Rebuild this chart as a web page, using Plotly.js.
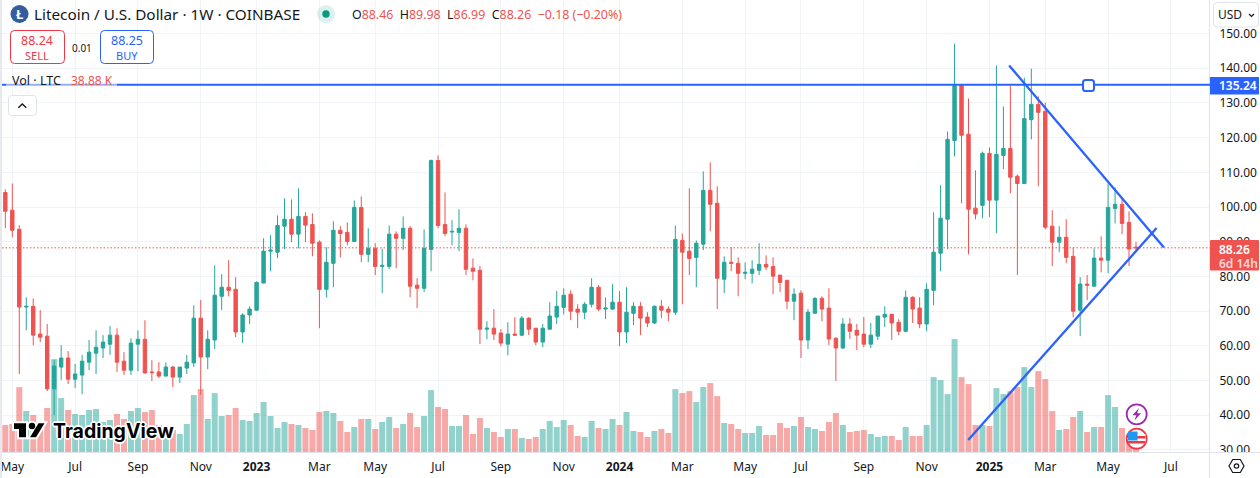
<!DOCTYPE html>
<html><head><meta charset="utf-8">
<script src="https://cdn.plot.ly/plotly-3.0.1.min.js"></script>
<style>html,body{margin:0;padding:0;background:#fff;overflow:hidden}#c{width:1260px;height:478px}</style>
</head><body><div id="c"></div>
<script>
const weeks=["2022-04-25","2022-05-02","2022-05-09","2022-05-16","2022-05-23","2022-05-30","2022-06-06","2022-06-13","2022-06-20","2022-06-27","2022-07-04","2022-07-11","2022-07-18","2022-07-25","2022-08-01","2022-08-08","2022-08-15","2022-08-22","2022-08-29","2022-09-05","2022-09-12","2022-09-19","2022-09-26","2022-10-03","2022-10-10","2022-10-17","2022-10-24","2022-10-31","2022-11-07","2022-11-14","2022-11-21","2022-11-28","2022-12-05","2022-12-12","2022-12-19","2022-12-26",
"2023-01-02","2023-01-09","2023-01-16","2023-01-23","2023-01-30","2023-02-06","2023-02-13","2023-02-20","2023-02-27","2023-03-06","2023-03-13","2023-03-20","2023-03-27","2023-04-03","2023-04-10","2023-04-17","2023-04-24","2023-05-01","2023-05-08","2023-05-15","2023-05-22","2023-05-29","2023-06-05","2023-06-12","2023-06-19","2023-06-26","2023-07-03","2023-07-10","2023-07-17","2023-07-24","2023-07-31","2023-08-07","2023-08-14","2023-08-21","2023-08-28","2023-09-04","2023-09-11","2023-09-18","2023-09-25","2023-10-02","2023-10-09","2023-10-16","2023-10-23","2023-10-30","2023-11-06","2023-11-13","2023-11-20","2023-11-27","2023-12-04","2023-12-11","2023-12-18","2023-12-25",
"2024-01-01","2024-01-08","2024-01-15","2024-01-22","2024-01-29","2024-02-05","2024-02-12","2024-02-19","2024-02-26","2024-03-04","2024-03-11","2024-03-18","2024-03-25","2024-04-01","2024-04-08","2024-04-15","2024-04-22","2024-04-29","2024-05-06","2024-05-13","2024-05-20","2024-05-27","2024-06-03","2024-06-10","2024-06-17","2024-06-24","2024-07-01","2024-07-08","2024-07-15","2024-07-22","2024-07-29","2024-08-05","2024-08-12","2024-08-19","2024-08-26","2024-09-02","2024-09-09","2024-09-16","2024-09-23","2024-09-30","2024-10-07","2024-10-14","2024-10-21","2024-10-28","2024-11-04","2024-11-11","2024-11-18","2024-11-25","2024-12-02","2024-12-09","2024-12-16","2024-12-23","2024-12-30",
"2025-01-06","2025-01-13","2025-01-20","2025-01-27","2025-02-03","2025-02-10","2025-02-17","2025-02-24","2025-03-03","2025-03-10","2025-03-17","2025-03-24","2025-03-31","2025-04-07","2025-04-14","2025-04-21","2025-04-28","2025-05-05","2025-05-12","2025-05-19","2025-05-26","2025-06-02"];
const opens=[104.2,99.1,93.6,71.2,71.4,63.4,62.8,47.6,53.9,56.5,50.4,51.6,55.3,57.9,59.4,60.5,63.1,55.6,53.0,60.5,61.9,52.5,52.5,51.3,53.9,51.0,53.6,55.1,68.0,56.8,61.7,74.3,76.9,76.3,64.0,68.9,70.3,78.1,87.3,87.0,94.5,96.5,92.2,97.3,95.0,89.9,76.3,83.8,93.3,92.7,90.1,99.9,86.4,88.1,82.9,82.9,92.2,91.0,93.9,77.5,76.6,87.8,113.4,95.0,92.8,92.7,93.9,82.4,81.8,64.8,65.1,63.7,60.5,63.4,63.1,68.0,65.1,61.1,64.8,68.3,71.1,74.9,70.6,69.7,72.0,76.9,70.6,70.6,72.6,64.0,69.4,71.4,68.3,66.6,71.4,70.6,69.7,90.4,87.3,85.5,89.3,104.8,101.1,79.2,84.1,83.8,80.9,80.9,81.8,83.5,82.9,80.4,78.9,72.9,75.2,61.7,69.4,73.7,70.9,62.2,59.4,66.3,64.5,63.4,60.5,62.8,68.3,69.1,66.8,64.2,74.0,70.9,66.3,76.0,86.7,96.5,119.2,135.0,121.0,99.7,100.5,115.5,102.0,114.9,116.9,108.9,106.8,125.2,129.6,127.6,94.5,89.9,91.3,85.8,70.3,77.8,77.2,85.3,84.7,99.6,100.8,95.6,88.46];
const highs=[105.1,106.8,94.8,74.0,73.7,70.3,66.3,55.9,60.2,58.5,54.8,57.4,61.7,64.5,63.1,65.7,65.1,58.2,62.2,64.5,67.4,55.9,55.3,55.2,54.2,53.9,57.4,71.7,73.2,64.5,83.2,80.7,84.7,79.8,69.4,71.4,78.6,91.0,91.9,97.6,102.5,102.2,105.4,98.5,98.2,90.4,88.4,95.9,94.5,95.6,101.9,103.1,93.9,89.6,88.0,94.7,93.0,97.3,94.5,79.5,93.6,113.7,114.9,104.2,96.2,99.4,95.0,85.2,83.0,67.1,70.6,64.8,66.8,68.3,68.6,68.3,65.1,66.3,72.6,75.8,76.6,76.0,72.0,72.6,79.5,77.5,74.0,77.8,75.8,76.9,72.6,72.6,69.7,71.7,73.2,71.4,94.7,92.4,105.4,90.4,110.3,112.9,106.0,85.8,88.4,85.5,84.1,84.7,89.6,86.1,85.5,80.4,78.9,76.6,76.0,70.6,74.0,74.3,76.6,62.5,68.0,68.0,66.3,68.3,66.6,68.6,71.4,69.1,67.7,76.0,74.3,74.0,78.0,98.5,106.3,121.8,147.1,135.0,131.3,110.6,116.0,117.2,140.8,129.0,135.0,109.4,137.3,139.9,131.9,130.1,99.1,94.5,96.5,88.4,79.8,80.4,88.1,91.6,106.8,105.7,102.8,98.8,89.98];
const lows=[93.9,91.3,51.9,64.5,60.2,61.1,47.0,40.1,50.2,49.0,47.9,46.1,53.0,51.9,56.5,57.4,52.5,51.6,51.6,52.7,52.0,49.9,50.7,51.3,48.1,49.3,51.9,53.9,46.0,53.3,59.1,70.3,74.3,62.5,60.8,66.3,70.0,78.1,81.5,85.3,87.9,89.9,88.1,89.9,85.8,65.1,74.0,76.9,85.5,89.0,89.9,84.1,84.1,80.4,75.2,82.1,82.4,87.6,74.0,70.9,75.5,81.5,93.9,91.6,89.0,87.3,80.4,78.9,60.5,61.9,61.7,59.9,57.3,63.1,62.8,63.1,60.2,59.6,64.8,66.3,69.1,67.4,65.1,67.7,71.1,70.0,67.7,70.3,59.9,60.8,66.0,63.1,65.4,66.3,68.0,67.1,68.9,72.0,80.4,76.9,87.6,93.0,70.6,75.2,81.5,74.3,79.2,78.0,80.4,81.8,74.9,75.5,70.6,67.4,56.5,59.1,69.4,67.1,60.2,49.9,59.1,62.0,58.8,59.6,59.4,61.7,65.4,61.7,63.1,63.9,66.6,65.1,64.2,71.7,81.5,87.9,114.6,101.1,86.4,96.5,96.8,97.1,92.5,110.9,104.0,80.4,106.8,119.5,106.0,93.6,83.0,87.0,83.8,68.3,62.8,73.2,77.2,81.2,81.0,95.3,92.2,83.0,86.99];
const closes=[98.8,93.3,71.2,71.4,63.1,62.5,47.6,54.2,56.5,50.4,51.9,55.6,58.2,59.6,61.1,63.1,55.3,53.0,60.8,61.9,52.2,52.3,51.3,53.9,51.0,53.9,55.3,68.0,56.8,61.9,74.6,76.9,76.0,64.0,68.9,70.6,78.3,87.3,87.6,94.7,96.5,92.2,97.3,94.8,89.6,76.3,84.1,93.3,92.4,90.1,99.9,86.4,88.1,82.9,83.2,92.2,91.0,93.9,77.2,76.6,88.1,113.4,94.7,92.4,93.0,93.9,82.1,81.5,64.8,65.1,63.4,60.8,63.4,63.1,68.0,64.8,61.1,65.1,68.6,71.4,74.6,70.0,69.7,72.0,76.9,70.6,70.9,72.6,64.0,69.7,71.4,68.0,66.6,71.4,70.3,69.7,90.7,87.0,85.2,89.6,104.8,100.8,79.5,84.1,83.8,80.9,81.2,82.1,83.5,82.7,80.1,78.3,72.9,74.9,61.7,69.7,73.7,70.6,62.0,59.4,66.3,64.2,63.1,60.5,63.1,68.6,69.1,66.6,64.2,74.0,70.6,66.3,76.3,87.0,96.8,119.5,135.0,120.7,99.4,98.0,115.5,102.0,115.2,116.9,108.6,106.8,125.5,129.6,127.3,94.2,89.9,91.3,85.5,70.0,77.8,77.5,85.3,84.7,99.9,100.8,95.3,87.9,88.26];
const volumeK=[351,364,844,533,481,372,572,1208,701,546,494,481,546,559,390,416,494,429,533,572,520,546,351,329,286,234,364,740,818,429,766,468,481,572,416,403,507,650,468,312,390,364,351,312,286,520,533,507,403,260,325,429,429,299,390,455,312,364,507,325,468,805,585,559,338,338,481,234,442,312,260,195,299,299,182,169,195,299,403,325,416,351,208,195,403,312,299,429,351,520,273,260,195,273,299,247,818,766,792,650,844,896,727,377,364,299,247,247,338,221,221,377,312,338,455,325,299,273,390,507,351,260,273,286,234,195,208,208,156,325,208,208,351,974,935,753,1468,974,883,351,351,338,831,753,792,844,1104,844,1052,948,533,286,299,455,533,260,325,325,740,585,312,221,38.88];
const xTickDates=["2022-05-02","2022-07-04","2022-09-05","2022-11-07","2023-01-02","2023-03-06","2023-05-01","2023-07-03","2023-09-04","2023-11-06","2024-01-01","2024-03-04","2024-05-06","2024-07-01","2024-09-02","2024-11-04","2025-01-06","2025-03-03","2025-05-05","2025-07-07"];
const xTickText=["May","Jul","Sep","Nov","<b>2023</b>","Mar","May","Jul","Sep","Nov","<b>2024</b>","Mar","May","Jul","Sep","Nov","<b>2025</b>","Mar","May","Jul"];
const priceTicks=[30,40,50,60,70,80,90,100,110,120,130,140,150];
const priceTickText=["30.00","40.00","50.00","60.00","70.00","80.00","90.00","100.00","110.00","120.00","130.00","140.00","150.00"];
const horizontalLevel=135.24, lastPrice=88.26;
const wedgeDown={x0:"2025-01-25 19:00",y0:140.8,x1:"2025-06-30",y1:88.33};
const wedgeUp={x0:"2024-12-15 17:00",y0:32.9,x1:"2025-06-22 15:00",y1:93.97};

const UP="#26A69A",DOWN="#EF5350",BLUE="#2962FF",INK="#131722",GRID="#f0f3fa",EDGE="#e0e3eb";
const FONT='"Noto Sans", sans-serif';
const L=2,W=1208,H=452;
const px=x=>(x-L)/W, py=y=>1-y/H;
const P=(x,y)=>px(x)+","+py(y);
const rrect=(x0,y0,x1,y1,r)=>`M${P(x0+r,y0)} L${P(x1-r,y0)} Q${P(x1,y0)} ${P(x1,y0+r)} L${P(x1,y1-r)} Q${P(x1,y1)} ${P(x1-r,y1)} L${P(x0+r,y1)} Q${P(x0,y1)} ${P(x0,y1-r)} L${P(x0,y0+r)} Q${P(x0,y0)} ${P(x0+r,y0)} Z`;
const poly=pts=>"M"+pts.map(p=>P(p[0],p[1])).join(" L");
const sh=(path,o={})=>({type:"path",path,xref:"paper",yref:"paper",layer:"above",fillcolor:o.fill||"rgba(0,0,0,0)",line:{color:o.color||"rgba(0,0,0,0)",width:o.w===undefined?1:o.w}});
const rect=(x0,y0,x1,y1,fill)=>({type:"rect",xref:"paper",yref:"paper",x0:px(x0),x1:px(x1),y0:py(y0),y1:py(y1),layer:"above",fillcolor:fill,line:{width:0}});
const circ=(cx,cy,r,fill,color,w)=>({type:"circle",xref:"paper",yref:"paper",x0:px(cx-r),x1:px(cx+r),y0:py(cy-r),y1:py(cy+r),layer:"above",fillcolor:fill,line:{color:color||"rgba(0,0,0,0)",width:w||0}});
const dataLine=(o,color,w,dash)=>({type:"line",xref:"x",yref:"y2",x0:o.x0,x1:o.x1,y0:o.y0,y1:o.y1,layer:"above",line:{color,width:w,dash:dash||"solid"}});
const note=(x,y,text,o={})=>({xref:"paper",yref:"paper",x:px(x),y:py(y),text,showarrow:false,xanchor:o.a||"left",yanchor:"middle",borderpad:0,
  font:Object.assign({family:o.family||FONT,size:o.size||12,color:o.color||INK},o.weight?{weight:o.weight}:{},o.shadow?{shadow:o.shadow}:{})});
const red=t=>`<span style="color:${DOWN}">${t}</span>`;
const halo="1px 0 0 #fff,-1px 0 0 #fff,0 1px 0 #fff,0 -1px 0 #fff,1px 1px 0 #fff,-1px -1px 0 #fff,1px -1px 0 #fff,-1px 1px 0 #fff,2px 0 0 #fff,-2px 0 0 #fff,0 2px 0 #fff,0 -2px 0 #fff";
const logoT=[[14,423.3],[26,423.3],[26,437.3],[19,437.3],[19,429],[14,429]];
const logoS=[[38.5,423.3],[44.5,423.3],[36,437.3],[30,437.3]];

const shapes=[
  rect(0,0,2,478,"#e8e9ec"),
  {type:"line",xref:"paper",yref:"paper",x0:px(2),x1:px(1260),y0:py(452.5),y1:py(452.5),layer:"above",line:{color:EDGE,width:1}},
  rect(1210,453,1260,478,"#fff"),
  {type:"line",xref:"paper",yref:"paper",x0:px(1209.5),x1:px(1209.5),y0:py(0),y1:py(478),layer:"above",line:{color:EDGE,width:1}},
  dataLine({x0:"2022-04-21 16:00",x1:"2025-08-15 05:00",y0:lastPrice,y1:lastPrice},DOWN,1,"1.5px,2px"),
  {type:"line",xref:"paper",yref:"y2",x0:0,x1:1,y0:horizontalLevel,y1:horizontalLevel,layer:"above",line:{color:BLUE,width:2}},
  rect(6,79,117,90,"rgba(255,255,255,0.5)"),
  dataLine(wedgeDown,BLUE,2.3),
  dataLine(wedgeUp,BLUE,2.3),
  sh(rrect(1083,80,1094,91,2.5),{fill:"#fff",color:BLUE,w:2}),
  // header widgets
  circ(19.5,14,9,"#345D9D"),
  circ(326,14,9,"rgba(8,153,129,0.14)"),
  circ(326,14,3.7,"#089981"),
  sh(rrect(10.5,30.5,64.5,63.5,4),{fill:"#fff",color:"#F23645",w:1}),
  sh(rrect(100.5,30.5,153.5,63.5,4),{fill:"#fff",color:BLUE,w:1}),
  sh(rrect(8.5,95.5,36.5,115.5,3),{fill:"#fff",color:EDGE,w:1}),
  sh(poly([[18.3,107.7],[22.3,104],[26.3,107.7]]),{color:INK,w:1.4}),
  // currency button
  sh(rrect(1213.5,2.5,1258.5,27,4),{fill:"#fff",color:EDGE,w:1}),
  sh(poly([[1249,14],[1251.5,16.5],[1254,14]]),{color:INK,w:1.2}),
  // price labels
  rect(1210,77,1259,94.5,BLUE),
  sh(rrect(1210,240,1259,270.5,1),{fill:DOWN}),
  // TradingView mark: white outline first, black glyph on top
  sh(poly(logoT)+" Z",{fill:"#fff",color:"#fff",w:4}),
  circ(32,426,3.2,"#fff","#fff",4),
  sh(poly(logoS)+" Z",{fill:"#fff",color:"#fff",w:4}),
  sh(poly(logoT)+" Z",{fill:"#000"}),
  circ(32,426,3.2,"#000"),
  sh(poly(logoS)+" Z",{fill:"#000"}),
  // floating icons
  circ(1136.7,414.3,10,"#fff","#9C27B0",1.8),
  sh(poly([[1139,408],[1132.5,415.2],[1136.3,415.2],[1134.5,420.5],[1141,413.2],[1137.2,413.2]])+" Z",{fill:"#9C27B0"}),
  circ(1136.7,438.7,10,"#fff","#F23645",1.8),
  rect(1128,434,1145.5,443.5,"#fff"),
  rect(1137,436,1145.5,438.5,"#F23645"),
  rect(1128,441,1145.5,443.5,"#F23645"),
  rect(1128,431.5,1137.5,440.5,"#2196F3"),
  // settings
  sh(poly([[1229,466],[1232.7,459.5],[1240.3,459.5],[1244,466],[1240.3,472.5],[1232.7,472.5]])+" Z",{color:INK,w:1.2}),
  circ(1236.5,466,2.2,"#fff",INK,1.2)
];
const annotations=[
  note(19.5,14,"Ł",{a:"center",color:"#fff",size:13,weight:700}),
  note(33,14,"Litecoin / U.S. Dollar · 1W · COINBASE",{size:15.3}),
  note(351,14.5,`O${red("88.46")}  H${red("89.98")}  L${red("86.99")}  C${red("88.26")}  ${red("−0.18 (−0.20%)")}`,{size:12.4}),
  note(37.4,40.5,"88.24",{a:"center",color:"#F23645",size:12.5}),
  note(37.4,55,"SELL",{a:"center",color:"#F23645",size:11}),
  note(82,47.5,"0.01",{a:"center",size:10}),
  note(127,40.5,"88.25",{a:"center",color:BLUE,size:12.5}),
  note(127,55,"BUY",{a:"center",color:BLUE,size:11}),
  note(11,80,"Vol · LTC",{size:12.5}),
  note(70,80,"38.88 K",{size:12,color:DOWN}),
  note(1217,14.5,"USD",{size:12}),
  note(1218,85.5,"135.24",{size:12,color:"#fff",weight:600}),
  note(1218,249,"88.26",{size:12,color:"#fff",weight:600}),
  note(1218,263,"6d 14h",{size:12,color:"#fbd6d5",weight:600}),
  note(52,430.5,"TradingView",{size:19.5,color:"#000",weight:700,family:'Inter, sans-serif',shadow:halo})
];

const traces=[
  {type:"bar",x:weeks,y:volumeK,xaxis:"x",yaxis:"y",hoverinfo:"skip",
   marker:{color:closes.map((c,i)=>c>=opens[i]?"rgba(38,166,154,0.5)":"rgba(239,83,80,0.5)"),line:{width:0}}},
  {type:"candlestick",x:weeks,open:opens,high:highs,low:lows,close:closes,xaxis:"x",yaxis:"y2",hoverinfo:"skip",whiskerwidth:0,
   increasing:{line:{color:UP,width:1},fillcolor:UP},decreasing:{line:{color:DOWN,width:1},fillcolor:DOWN}}
];
const layout={
  width:1260,height:478,margin:{l:L,r:50,t:0,b:26,pad:0},paper_bgcolor:"#fff",plot_bgcolor:"#fff",showlegend:false,bargap:0.14,
  font:{family:FONT,size:12,color:INK},
  xaxis:{type:"date",range:["2022-04-21 16:00","2025-08-15 05:00"],tickmode:"array",tickvals:xTickDates,ticktext:xTickText,tickangle:0,
    showgrid:true,gridcolor:GRID,gridwidth:1,zeroline:false,showline:false,ticks:"outside",ticklen:4,tickcolor:"rgba(0,0,0,0)",
    tickfont:{family:FONT,size:12,color:INK},rangeslider:{visible:false},fixedrange:true},
  yaxis:{range:[0,5876],visible:false,fixedrange:true,showgrid:false,zeroline:false},
  yaxis2:{overlaying:"y",side:"right",range:[29.42,159.68],tickmode:"array",tickvals:priceTicks,ticktext:priceTickText,
    showgrid:true,gridcolor:GRID,gridwidth:1,zeroline:false,showline:false,ticks:"outside",ticklen:6,tickcolor:"rgba(0,0,0,0)",
    tickfont:{family:FONT,size:12,color:INK},fixedrange:true},
  shapes,annotations
};
Plotly.newPlot("c",traces,layout,{displayModeBar:false,staticPlot:true});
</script></body></html>
